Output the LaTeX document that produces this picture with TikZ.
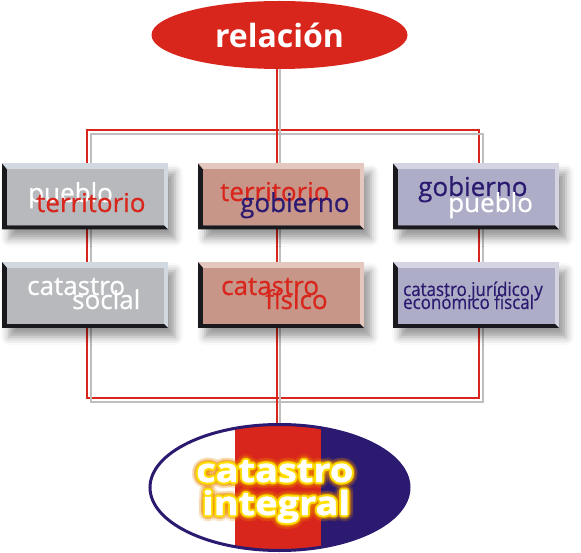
\documentclass[tikz,border=0pt]{standalone}
\usepackage{fontspec}
\setmainfont{Open Sans}
\newfontfamily\caja[FakeBold=0.7]{Open Sans}
\newfontfamily\estrecha[FakeStretch=0.89,FakeBold=0.5]{Open Sans}
\newfontfamily\ancha[FakeStretch=1.15,FakeBold=1.2]{Open Sans}
\usepackage{xcolor}
\usetikzlibrary{shapes.geometric}
\usetikzlibrary{shadows.blur}
\definecolor{rojo}{RGB}{217,38,28}
\definecolor{azul}{RGB}{43,26,112}
\definecolor{grisface}{RGB}{183,185,189}
\definecolor{grisluz}{RGB}{210,216,224}
\definecolor{rosaface}{RGB}{200,149,137}
\definecolor{rosaluz}{RGB}{228,200,192}
\definecolor{lilaface}{RGB}{173,173,199}
\definecolor{lilaluz}{RGB}{212,212,226}
\definecolor{oscuro}{RGB}{26,26,30}
\definecolor{gristrazo}{RGB}{190,190,190}
\definecolor{naranja}{RGB}{240,140,0}
\definecolor{amarillo}{RGB}{255,226,0}

\begin{document}
\begin{tikzpicture}[x=1pt,y=-1pt,
  cajaboton/.style 2 args={rectangle, inner sep=0pt, minimum width=166pt, minimum height=66pt,
    fill=#2,
    blur shadow={shadow xshift=7pt, shadow yshift=-9pt, shadow blur radius=8pt, shadow opacity=40},
    path picture={
      \fill[oscuro] (path picture bounding box.north west)
        -- ([xshift=5pt,yshift=-6pt]path picture bounding box.north west)
        -- ([xshift=5pt,yshift=4pt]path picture bounding box.south west)
        -- ([xshift=-4pt,yshift=4pt]path picture bounding box.south east)
        -- (path picture bounding box.south east)
        -- (path picture bounding box.south west) -- cycle;
      \fill[#1] ([xshift=5pt,yshift=-6pt]path picture bounding box.north west)
        rectangle ([xshift=-4pt,yshift=4pt]path picture bounding box.south east);
    }},
  texto/.style={inner sep=0pt, anchor=base west, font=\fontsize{26}{26}\caja},
  brillo/.style={inner sep=0pt, anchor=base west, font=\fontsize{33}{33}\ancha\bfseries},
  lineaRoja/.style={draw=rojo, line width=1.4pt},
  lineaGris/.style={draw=gristrazo, line width=1.2pt}]
\useasboundingbox (0,0) rectangle (581,553);

%frame
\draw[lineaRoja] (87,130) rectangle (479,398);
\draw[lineaGris] (91,134) rectangle (483,402);

%ellipses
\node[ellipse, fill=rojo, minimum width=256pt, minimum height=68pt, inner sep=0pt,
  font=\fontsize{32}{32}\selectfont\bfseries, text=white] (rel) at (279.5,35) {relación};
\node[ellipse, draw=azul, line width=3pt, fill=white, minimum width=259pt, minimum height=126pt,
  path picture={
    \fill[rojo] ([xshift=-45pt]path picture bounding box.north) rectangle ([xshift=41pt]path picture bounding box.south);
    \fill[azul] ([xshift=41pt]path picture bounding box.north) rectangle (path picture bounding box.south east);
  }] (cat) at (279.5,487.5) {};

\draw[lineaRoja] ([xshift=-2.5pt]rel.south) -- ([xshift=-2.5pt]cat.north);
\draw[lineaGris] ([xshift=0.5pt]rel.south) -- ([xshift=0.5pt]cat.north);

%boxes
\node[cajaboton={grisface}{grisluz}] (pt) at (85,196.5) {};
\node[cajaboton={rosaface}{rosaluz}] (tg) at (281,196.5) {};
\node[cajaboton={lilaface}{lilaluz}] (gp) at (476,196.5) {};
\node[cajaboton={grisface}{grisluz}] (cs) at (85,295) {};
\node[cajaboton={rosaface}{rosaluz}] (cf) at (281,295) {};
\node[cajaboton={lilaface}{lilaluz}] (cj) at (476,295) {};

%labels
\node[texto, text=white] (pt1) at (28,202) {pueblo};
\node[texto, text=rojo] (pt2) at (36,212) {territorio};
\node[texto, text=rojo] (tg1) at (220,201) {territorio};
\node[texto, text=azul] (tg2) at (240,212) {gobierno};
\node[texto, text=azul] (gp1) at (418,196) {gobierno};
\node[texto, text=white] (gp2) at (448,212) {pueblo};
\node[texto, text=white] (cs1) at (27,295) {catastro};
\node[texto, text=white] (cs2) at (72,309) {social};
\node[texto, text=rojo] (cf1) at (221,295) {catastro};
\node[texto, text=rojo] (cf2) at (265,309) {físico};
\node[texto, text=azul, font=\fontsize{19}{19}\estrecha] (cj1) at (403,296) {catastro jurídico y};
\node[texto, text=azul, font=\fontsize{19}{19}\estrecha] (cj2) at (403,309) {económico fiscal};

%glow
\foreach \a in {0,22.5,...,359} {
  \node[brillo, text=naranja, opacity=0.1] at ([shift={(\a:6pt)}]196,482) {catastro};
  \node[brillo, text=naranja, opacity=0.1] at ([shift={(\a:6pt)}]202,515) {integral};
  \node[brillo, text=naranja, opacity=0.15] at ([shift={(\a:3.8pt)}]196,482) {catastro};
  \node[brillo, text=naranja, opacity=0.15] at ([shift={(\a:3.8pt)}]202,515) {integral};
}
\foreach \a in {0,30,...,359} {
  \node[brillo, text=amarillo, opacity=0.5] at ([shift={(\a:2.2pt)}]196,482) {catastro};
  \node[brillo, text=amarillo, opacity=0.5] at ([shift={(\a:2.2pt)}]202,515) {integral};
}
\node[brillo, text=white] (ci1) at (196,482) {catastro};
\node[brillo, text=white] (ci2) at (202,515) {integral};
\end{tikzpicture}
\end{document}
